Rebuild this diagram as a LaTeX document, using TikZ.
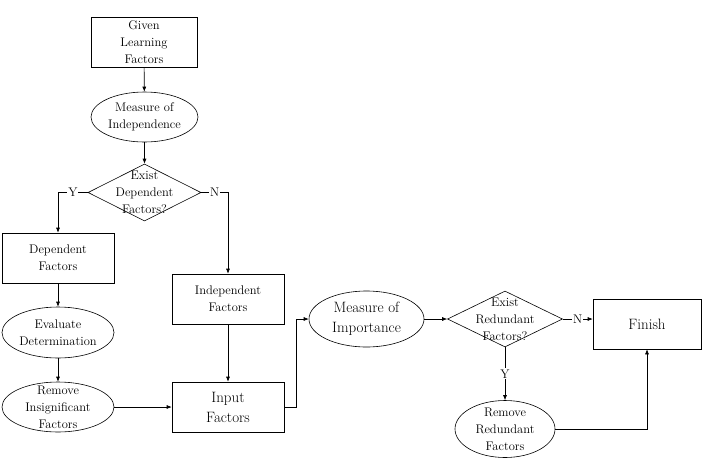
\documentclass[tikz,border=0pt]{standalone}
\usetikzlibrary{shapes.geometric, arrows.meta}
\begin{document}
\begin{tikzpicture}[x=1pt, y=-1pt, line width=0.6pt,
                    >={Latex[length=5pt, width=4pt]},
                    font=\fontsize{12.5}{17}\selectfont,
                    factorbox/.style={rectangle, draw, align=center, inner sep=0pt,
                                      minimum width=112pt, minimum height=50pt},
                    estimate/.style={ellipse, draw, inner sep=0pt},
                    decision/.style={diamond, draw, inner sep=0pt},
                    bigtext/.style={font=\fontsize{15}{20}\selectfont},
                    answer/.style={fill=white, inner sep=1pt},
                    every label/.style={align=center}]
  \useasboundingbox (0, 0) rectangle (702, 475);

  % Independence stage.
  \node at (144, 42) [factorbox, minimum width=106pt, name=GivenFactors] {Given\\Learning\\Factors};
  \node at (144.5, 117) [estimate, minimum width=107pt, minimum height=50pt,
                         label={center:Measure of\\Independence}, name=MeasureIndependence] {};
  \node at (144.5, 192.5) [decision, minimum width=113pt, minimum height=57pt,
                           label={center:Exist\\Dependent\\Factors?}, name=DependentQ] {};

  % Dependent branch.
  \node at (58, 258) [factorbox, name=DependentFactors] {Dependent\\Factors};
  \node at (58, 332.5) [estimate, minimum width=112pt, minimum height=51pt,
                        label={center:Evaluate\\Determination}, name=EvaluateDetermination] {};
  \node at (58, 407) [estimate, minimum width=112pt, minimum height=50pt,
                      label={center:Remove\\Insignificant\\Factors}, name=RemoveInsignificant] {};

  % Independent branch.
  \node at (228, 299) [factorbox, name=IndependentFactors] {Independent\\Factors};
  \node at (228, 407) [factorbox, bigtext, name=InputFactors] {Input\\Factors};

  % Importance stage.
  \node at (366.5, 319) [estimate, minimum width=115pt, minimum height=56pt,
                         label={[bigtext]center:Measure of\\Importance}, name=MeasureImportance] {};
  \node at (505, 319) [decision, minimum width=115pt, minimum height=56pt,
                       label={center:Exist\\Redundant\\Factors?}, name=RedundantQ] {};
  \node at (505, 429) [estimate, minimum width=100pt, minimum height=57pt,
                       label={center:Remove\\Redundant\\Factors}, name=RemoveRedundant] {};
  \node at (647, 324) [factorbox, bigtext, minimum width=108pt, name=Finish] {Finish};

  % Flow.
  \draw [->] (GivenFactors) to (MeasureIndependence);
  \draw [->] (MeasureIndependence) to (DependentQ);
  \draw [->] (DependentQ.west) -| node [pos=0.25, answer] {Y} (DependentFactors.north);
  \draw [->] (DependentQ.east) -| node [pos=0.25, answer] {N} (IndependentFactors.north);
  \draw [->] (DependentFactors) to (EvaluateDetermination);
  \draw [->] (EvaluateDetermination) to (RemoveInsignificant);
  \draw [->] (RemoveInsignificant) to (InputFactors);
  \draw [->] (IndependentFactors) to (InputFactors);
  \draw [->] (InputFactors.east) -- ++(12, 0) |- (MeasureImportance.west);
  \draw [->] (MeasureImportance) to (RedundantQ);
  \draw [->] (RedundantQ.east)
             to node [answer] {N}
             (RedundantQ.east -| Finish.west);
  \draw [->] (RedundantQ.south)
             to node [answer] {Y}
             (RemoveRedundant.north);
  \draw [->] (RemoveRedundant.east) -| (Finish.south);
\end{tikzpicture}
\end{document}
